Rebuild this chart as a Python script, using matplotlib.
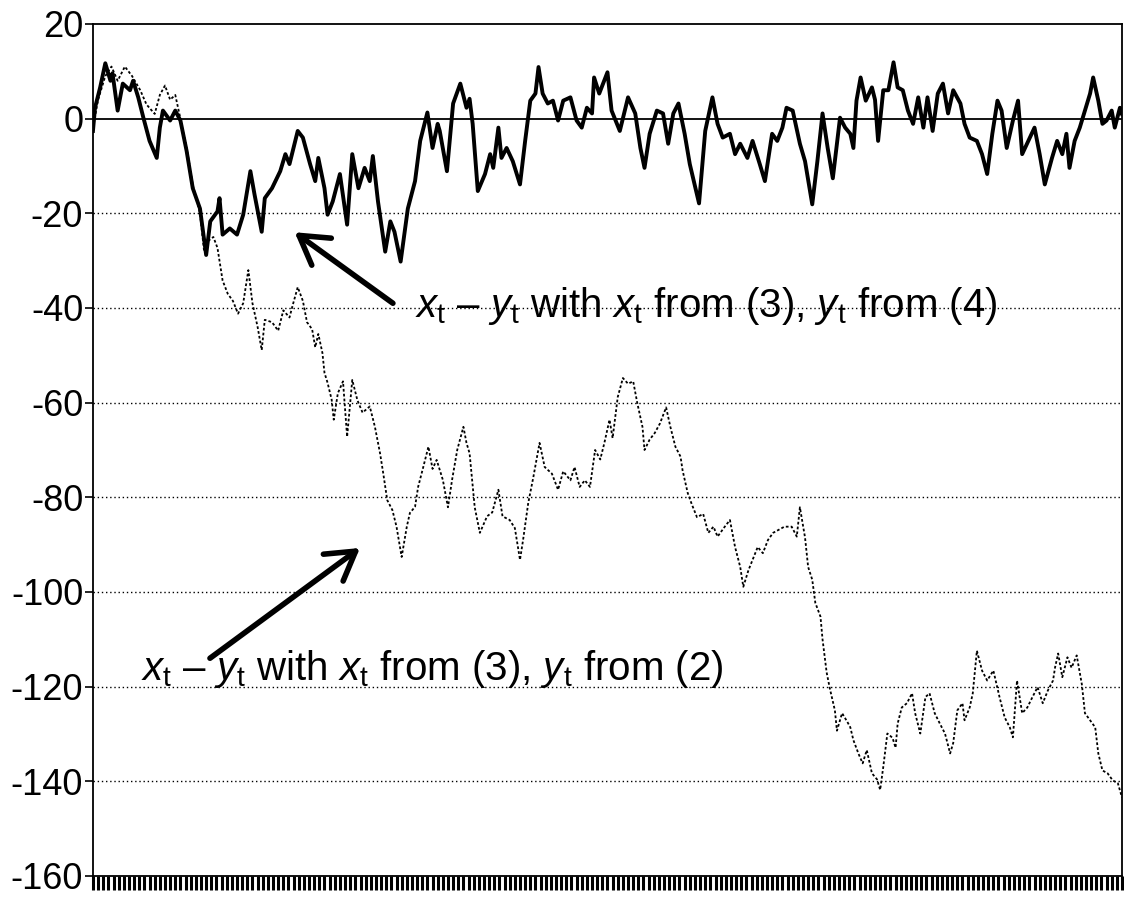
import numpy as np
import matplotlib
matplotlib.use('Agg')
import matplotlib.pyplot as plt

plt.rcParams['font.family'] = ['Liberation Sans', 'DejaVu Sans']
plt.rcParams['mathtext.fontset'] = 'custom'
plt.rcParams['mathtext.rm'] = 'Liberation Sans'
plt.rcParams['mathtext.it'] = 'Liberation Sans:italic'

# Series: time index (0..1000) and value
# x_t - y_t with x_t from (3), y_t from (4)  -> solid, mean reverting
t_coint = [0, 2, 7, 12, 17, 19, 24, 29, 36, 39, 44, 49, 55, 62, 65, 68, 75, 80, 85, 91,
           97, 104, 110, 114, 121, 123, 126, 133, 140, 146, 153, 157, 164, 167, 174, 182, 187, 191, 199, 204,
           211, 216, 219, 225, 228, 233, 240, 247, 252, 258, 264, 269, 272, 277, 284, 289, 293, 299, 306, 313,
           318, 325, 330, 335, 337, 344, 350, 357, 363, 366, 369, 374, 381, 386, 389, 394, 397, 402, 408, 415,
           420, 425, 430, 433, 437, 442, 447, 452, 457, 464, 470, 475, 480, 485, 487, 492, 500, 504, 512, 520,
           527, 532, 536, 541, 548, 554, 559, 564, 569, 575, 580, 587, 589, 595, 602, 607, 612, 619, 624, 629,
           636, 641, 648, 653, 660, 665, 670, 674, 680, 687, 692, 699, 704, 709, 714, 719, 726, 731, 736, 739,
           742, 746, 751, 757, 760, 763, 768, 773, 778, 782, 787, 792, 797, 802, 807, 811, 816, 821, 826, 831,
           836, 843, 847, 852, 859, 864, 869, 874, 879, 883, 888, 894, 899, 903, 909, 915, 920, 925, 932, 937,
           942, 946, 949, 954, 959, 964, 969, 972, 977, 981, 985, 990, 993, 998, 1000]
v_coint = [-2.6, 2.3, 6.6, 11.7, 8.0, 9.6, 1.7, 7.4, 6.0, 8.0, 4.5, 0.2, -4.7, -8.3, -1.9, 1.7, -0.4, 1.7, -0.4, -6.8,
           -14.7, -19.0, -28.8, -21.7, -19.6, -16.8, -24.5, -23.2, -24.5, -20.3, -11.1, -16.0, -23.9, -16.8, -14.7, -11.1, -7.5, -9.6, -2.6, -4.0,
           -9.6, -13.2, -8.3, -14.7, -20.3, -17.5, -11.7, -22.4, -7.5, -14.7, -10.4, -13.2, -7.9, -17.5, -28.1, -21.7, -23.9, -30.2, -19.0, -13.2,
           -4.7, 1.3, -6.2, -1.1, -2.6, -11.1, 3.2, 7.4, 2.3, 4.2, -1.1, -15.3, -11.7, -7.5, -10.4, -1.9, -8.3, -6.2, -9.0, -13.9,
           -4.7, 3.8, 5.3, 10.9, 5.3, 3.2, 3.8, -0.4, 3.8, 4.5, -0.4, -1.9, 2.3, 1.1, 8.7, 5.3, 9.8, 1.7, -2.6, 4.5,
           1.1, -6.2, -10.4, -3.2, 1.7, 1.1, -5.3, 1.1, 3.2, -3.2, -9.6, -16.0, -17.9, -2.6, 4.5, -1.1, -4.0, -3.2, -7.5, -5.3,
           -8.3, -4.7, -9.6, -13.2, -3.2, -4.7, -1.9, 2.3, 1.7, -5.3, -9.0, -18.1, -9.0, 1.1, -6.2, -12.6, 0.2, -1.9, -3.2, -6.2,
           3.8, 8.7, 3.8, 6.6, 4.0, -4.7, 6.0, 6.0, 11.9, 6.6, 6.0, 1.7, -1.1, 4.5, -1.9, 4.5, -2.6, 5.3, 7.4, 1.1,
           6.0, 3.2, -1.1, -4.0, -4.7, -7.5, -11.7, -3.2, 3.8, 1.7, -6.2, -0.4, 3.8, -7.5, -4.7, -1.9, -7.5, -13.9, -8.3, -4.7,
           -7.5, -3.2, -10.4, -4.7, -1.9, 1.7, 5.3, 8.7, 3.8, -1.1, -0.4, 1.7, -1.9, 2.3, 1.0]

# x_t - y_t with x_t from (3), y_t from (2)  -> dotted, drifting
t_walk = [0, 5, 12, 18, 24, 31, 38, 46, 52, 60, 65, 70, 75, 80, 85, 91, 97, 104, 108, 111,
          117, 121, 126, 131, 136, 141, 146, 151, 155, 160, 164, 167, 174, 180, 185, 191, 194, 199, 204, 208,
          213, 216, 219, 223, 225, 228, 232, 234, 238, 243, 247, 252, 257, 262, 269, 274, 279, 282, 286, 291,
          295, 300, 305, 308, 313, 316, 321, 326, 330, 334, 340, 345, 349, 354, 360, 363, 366, 371, 376, 383,
          388, 394, 398, 405, 410, 415, 418, 423, 428, 434, 439, 446, 452, 457, 464, 468, 473, 478, 483, 488,
          493, 497, 502, 505, 510, 515, 520, 525, 529, 534, 536, 541, 546, 551, 557, 561, 566, 571, 573, 578,
          582, 587, 593, 598, 603, 607, 614, 619, 624, 629, 632, 637, 641, 646, 651, 656, 661, 666, 672, 679,
          684, 687, 692, 695, 699, 702, 707, 709, 713, 716, 721, 723, 728, 733, 736, 739, 744, 748, 752, 757,
          762, 765, 768, 772, 777, 780, 782, 786, 791, 796, 799, 804, 809, 813, 818, 823, 828, 833, 836, 840,
          845, 847, 852, 855, 859, 864, 869, 875, 881, 886, 891, 894, 898, 903, 908, 913, 918, 923, 928, 933,
          935, 938, 942, 947, 951, 956, 961, 964, 969, 974, 977, 981, 986, 991, 996, 1000]
v_walk = [-2.0, 4.0, 9.0, 11.0, 8.0, 11.0, 9.0, 6.0, 3.0, 1.0, 5.0, 7.0, 4.0, 5.0, 0.0, -6.0, -14.0, -20.0, -28.0, -26.0,
          -25.0, -27.3, -34.2, -37.0, -38.5, -41.2, -39.0, -32.0, -39.0, -44.0, -48.9, -42.5, -43.0, -44.8, -40.5, -42.0, -39.5, -35.6, -38.5, -43.0,
          -44.5, -48.3, -45.5, -49.5, -53.7, -55.8, -59.4, -63.6, -58.0, -55.5, -67.2, -55.2, -59.5, -62.1, -60.8, -65.1, -70.7, -74.8, -80.6, -82.7,
          -86.2, -92.6, -86.2, -83.3, -82.0, -77.8, -73.6, -69.3, -74.0, -72.1, -76.3, -82.1, -76.3, -70.0, -65.1, -68.5, -70.7, -82.1, -87.5, -84.0,
          -83.2, -78.4, -84.0, -84.8, -86.5, -93.2, -89.0, -81.2, -75.7, -68.5, -73.6, -75.0, -78.4, -74.5, -76.4, -73.6, -77.8, -76.4, -77.8, -70.0,
          -72.0, -68.5, -63.6, -67.5, -58.8, -54.8, -56.0, -55.5, -60.1, -65.1, -70.0, -67.8, -66.4, -64.4, -61.0, -65.0, -69.3, -71.4, -74.3, -79.1,
          -81.5, -84.2, -83.5, -87.5, -86.2, -88.3, -86.2, -84.8, -90.5, -94.7, -98.9, -95.4, -93.2, -90.5, -91.8, -89.0, -87.5, -86.9, -86.2, -86.2,
          -88.3, -82.1, -88.5, -94.7, -97.4, -102.3, -105.2, -110.0, -117.0, -120.3, -125.0, -129.3, -125.6, -127.4, -128.6, -131.3, -134.2, -136.2, -133.4, -138.3,
          -139.6, -141.8, -137.0, -129.9, -130.8, -132.9, -127.8, -124.4, -123.5, -121.4, -125.6, -129.9, -122.2, -121.4, -125.6, -127.8, -129.9, -134.1, -131.9, -125.0,
          -123.5, -127.1, -124.4, -121.4, -112.4, -116.6, -118.7, -116.6, -122.2, -126.5, -128.6, -130.7, -118.7, -125.6, -124.4, -122.2, -120.1, -123.5, -120.8, -118.7,
          -115.9, -113.0, -118.0, -113.8, -116.0, -113.4, -119.5, -125.6, -127.1, -128.6, -134.1, -137.7, -138.3, -139.8, -140.4, -143.4]

y_ticks = [20, 0, -20, -40, -60, -80, -100, -120, -140, -160]
grid_levels = [-20, -40, -60, -80, -100, -120, -140]

label_top = r'$x_{\mathrm{t}}$ – $y_{\mathrm{t}}$ with $x_{\mathrm{t}}$ from (3), $y_{\mathrm{t}}$ from (4)'
label_bottom = r'$x_{\mathrm{t}}$ – $y_{\mathrm{t}}$ with $x_{\mathrm{t}}$ from (3), $y_{\mathrm{t}}$ from (2)'

fig = plt.figure(figsize=(11.24, 8.98), dpi=100)
ax = fig.add_axes([0.0827, 0.0245, 0.9155, 0.9488])

# dotted grid lines and the solid zero line
for g in grid_levels:
    ax.axhline(g, color='black', lw=1.0, linestyle=(0, (1, 2)), zorder=1)
ax.axhline(0, color='black', lw=1.3, zorder=1)

ax.plot(t_walk, v_walk, color='black', lw=1.3, linestyle=(0, (1.5, 1.2)), zorder=2)
ax.plot(t_coint, v_coint, color='black', lw=2.8, zorder=3)

ax.set_xlim(0, 1000)
ax.set_ylim(-160, 20)
ax.set_yticks(y_ticks)
ax.set_yticklabels([str(v) for v in y_ticks])
ax.set_xticks(np.arange(0, 1001, 5))
ax.set_xticklabels([])
ax.tick_params(axis='y', direction='out', length=6, width=1.2, labelsize=26, pad=1)
ax.tick_params(axis='x', direction='out', length=10, width=2.2)
for s in ax.spines.values():
    s.set_linewidth(1.3)

# annotations with arrows
ax.text(313, -41.9, label_top, fontsize=29, ha='left', va='baseline', zorder=5)
ax.text(47, -118.6, label_bottom, fontsize=29, ha='left', va='baseline', zorder=5)
ax.annotate('', xy=(196, -24.0), xytext=(291.5, -39.0),
            arrowprops=dict(arrowstyle='->,head_length=0.5,head_width=0.3', lw=4, color='black',
                            mutation_scale=40, shrinkA=0, shrinkB=0))
ax.annotate('', xy=(259.5, -90.7), xytext=(113.7, -114.0),
            arrowprops=dict(arrowstyle='->,head_length=0.5,head_width=0.3', lw=4, color='black',
                            mutation_scale=40, shrinkA=0, shrinkB=0))

fig.savefig('out.png', dpi=100)
